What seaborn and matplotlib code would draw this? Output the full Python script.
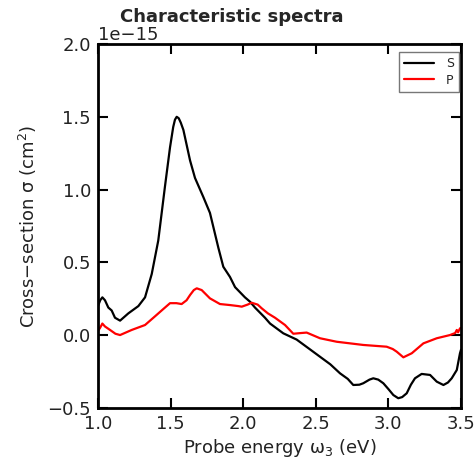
import numpy as np
import pandas as pd
import matplotlib
matplotlib.use("Agg")
import matplotlib.pyplot as plt
import seaborn as sns

# S spectrum (units of 1e-15 cm^2)
s_energy = [1.000, 1.015, 1.030, 1.048, 1.071, 1.094, 1.117, 1.152, 1.209, 1.278, 1.324, 1.370,
            1.415, 1.461, 1.496, 1.518, 1.530, 1.542, 1.556, 1.570, 1.588, 1.634, 1.668, 1.725, 1.771,
            1.829, 1.863, 1.909, 1.944, 2.012, 2.047, 2.081, 2.150, 2.185, 2.219,
            2.276, 2.368, 2.450, 2.529, 2.600, 2.667, 2.720, 2.758, 2.800, 2.827, 2.870, 2.896, 2.930,
            2.965, 3.000, 3.034, 3.068, 3.095, 3.126, 3.155, 3.183, 3.229, 3.287, 3.333, 3.379, 3.410,
            3.436, 3.471, 3.493, 3.500]
s_sigma = [0.20, 0.24, 0.26, 0.24, 0.19, 0.17, 0.12, 0.10, 0.15, 0.20, 0.26, 0.42,
           0.65, 1.02, 1.29, 1.43, 1.48, 1.50, 1.49, 1.46, 1.41, 1.20, 1.08, 0.95, 0.84,
           0.60, 0.47, 0.40, 0.33, 0.26, 0.23, 0.19, 0.12, 0.08, 0.055,
           0.013, -0.03, -0.09, -0.148, -0.20, -0.262, -0.30, -0.342, -0.340, -0.330, -0.305, -0.296, -0.305,
           -0.330, -0.37, -0.411, -0.433, -0.425, -0.399, -0.34, -0.296, -0.266, -0.273, -0.319, -0.342, -0.325,
           -0.296, -0.239, -0.124, -0.10]

# P spectrum (units of 1e-15 cm^2)
p_energy = [1.000, 1.014, 1.030, 1.048, 1.083, 1.120, 1.152, 1.232, 1.324, 1.393, 1.450, 1.496, 1.540,
            1.576, 1.610, 1.634, 1.660, 1.680, 1.714, 1.771, 1.840, 1.909, 1.966, 1.990, 2.030, 2.058,
            2.100, 2.127, 2.170, 2.219, 2.288, 2.345, 2.400, 2.437, 2.529, 2.644, 2.827, 2.988,
            3.030, 3.057, 3.103, 3.161, 3.241, 3.333, 3.424, 3.460, 3.471, 3.480, 3.493, 3.500]
p_sigma = [0.03, 0.05, 0.08, 0.06, 0.036, 0.01, 0.001, 0.036, 0.070, 0.13, 0.18, 0.22, 0.22,
           0.214, 0.24, 0.276, 0.31, 0.322, 0.310, 0.253, 0.214, 0.207, 0.200, 0.196, 0.21, 0.223,
           0.21, 0.185, 0.15, 0.12, 0.07, 0.01, 0.015, 0.018, -0.021, -0.045, -0.067, -0.079,
           -0.095, -0.113, -0.152, -0.124, -0.056, -0.021, 0.001, 0.015, 0.036, 0.02, 0.047, 0.05]

series_names = ["S", "P"]
series_colors = ["black", "red"]

df = pd.concat([
    pd.DataFrame({"energy": s_energy, "sigma": np.array(s_sigma) * 1e-15, "series": "S"}),
    pd.DataFrame({"energy": p_energy, "sigma": np.array(p_sigma) * 1e-15, "series": "P"}),
], ignore_index=True)

sns.set_style("ticks")
plt.rcParams["font.family"] = ["DejaVu Sans"]
plt.rcParams["axes.formatter.use_mathtext"] = False

FS = 13

fig = plt.figure(figsize=(4.76, 4.61), dpi=100)
ax = fig.add_axes([98 / 476, 1 - 408 / 461, (461 - 98) / 476, (408 - 44) / 461])

sns.lineplot(data=df, x="energy", y="sigma", hue="series", hue_order=series_names,
             palette=dict(zip(series_names, series_colors)), ax=ax, linewidth=1.6,
             sort=False, estimator=None)

ax.set_xlim(1.0, 3.5)
ax.set_ylim(-0.5e-15, 2.0e-15)
ax.set_xticks([1.0, 1.5, 2.0, 2.5, 3.0, 3.5])
ax.set_yticks(np.array([-0.5, 0.0, 0.5, 1.0, 1.5, 2.0]) * 1e-15)
ax.ticklabel_format(axis="y", style="sci", scilimits=(0, 0), useMathText=False)

ax.tick_params(direction="in", length=7, width=1.5, top=True, right=True,
               labelsize=FS, colors="black", pad=5)
ax.tick_params(axis="y", labelcolor="#222222")
ax.tick_params(axis="x", labelcolor="#222222")
ax.yaxis.get_offset_text().set_fontsize(FS)
for sp in ax.spines.values():
    sp.set_visible(True)
    sp.set_linewidth(2)
    sp.set_color("black")

ax.set_xlabel(r"Probe energy $\mathregular{\omega_3}$ (eV)", fontsize=FS, labelpad=3, color="#222222")
ax.set_ylabel(r"Cross$\mathregular{-}$section $\mathregular{\sigma}$ (cm$^{2}$)", fontsize=FS,
              labelpad=6, color="#222222")

leg = ax.legend(loc="upper right", bbox_to_anchor=(0.995, 0.978), fontsize=9, frameon=True,
                fancybox=False, handlelength=2.4, borderpad=0.4, labelspacing=0.3,
                handletextpad=1.0, borderaxespad=0.0)
leg.get_frame().set_edgecolor("#555555")
leg.get_frame().set_linewidth(1)
leg.set_title(None)

fig.text(232 / 476, 1 - 17 / 461, "Characteristic spectra", ha="center", va="center",
         fontsize=FS, fontweight="bold")

fig.savefig("out.png", dpi=100)
